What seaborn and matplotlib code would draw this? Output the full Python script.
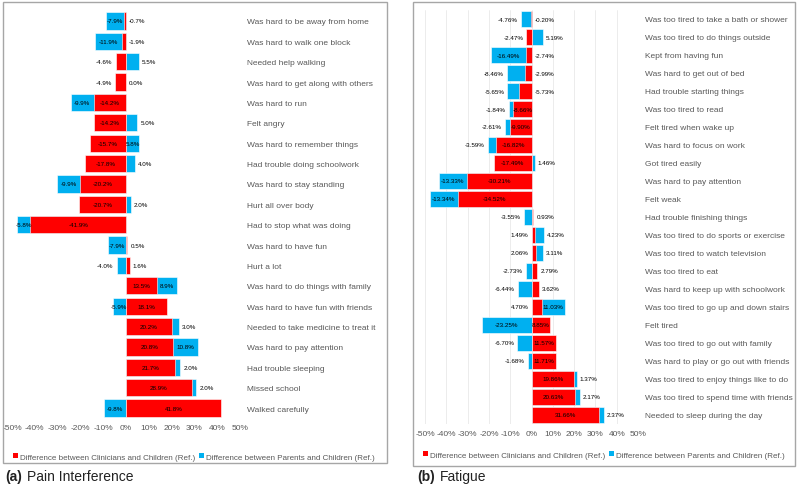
import numpy as np
import matplotlib
matplotlib.use('Agg')
import matplotlib.pyplot as plt
import seaborn as sns
from matplotlib.patches import Patch, Rectangle

# DATA
pain_items = ['Was hard to be away from home', 'Was hard to walk one block', 'Needed help walking',
              'Was hard to get along with others', 'Was hard to run', 'Felt angry',
              'Was hard to remember things', 'Had trouble doing schoolwork', 'Was hard to stay standing',
              'Hurt all over body', 'Had to stop what was doing', 'Was hard to have fun', 'Hurt a lot',
              'Was hard to do things with family', 'Was hard to have fun with friends',
              'Needed to take medicine to treat it', 'Was hard to pay attention', 'Had trouble sleeping',
              'Missed school', 'Walked carefully']
pain_clin = [-0.7, -1.9, -4.6, -4.9, -14.2, -14.2, -15.7, -17.8, -20.2, -20.7, -41.9,
             0.5, 1.6, 13.5, 18.1, 20.2, 20.8, 21.7, 28.9, 41.8]
pain_par = [-7.9, -11.9, 5.5, 0.0, -9.9, 5.0, 5.8, 4.0, -9.9, 2.0, -5.8,
            -7.9, -4.0, 8.9, -5.9, 3.0, 10.8, 2.0, 2.0, -9.8]

fat_items = ['Was too tired to take a bath or shower', 'Was too tired to do things outside',
             'Kept from having fun', 'Was hard to get out of bed', 'Had trouble starting things',
             'Was too tired to read', 'Felt tired when wake up', 'Was hard to focus on work',
             'Got tired easily', 'Was hard to pay attention', 'Felt weak', 'Had trouble finishing things',
             'Was too tired to do sports or exercise', 'Was too tired to watch television',
             'Was too tired to eat', 'Was hard to keep up with schoolwork',
             'Was too tired to go up and down stairs', 'Felt tired', 'Was too tired to go out with family',
             'Was hard to play or go out with friends', 'Was too tired to enjoy things like to do',
             'Was too tired to spend time with friends', 'Needed to sleep during the day']
fat_clin = [-0.20, -2.47, -2.74, -2.99, -5.73, -8.66, -9.90, -16.82, -17.49, -30.21, -34.52,
            0.93, 1.49, 2.06, 2.79, 3.62, 4.70, 8.85, 11.57, 11.71, 19.86, 20.63, 31.66]
fat_par = [-4.76, 5.19, -16.49, -8.46, -5.65, -1.84, -2.61, -3.59, 1.46, -13.33, -13.34,
           -3.55, 4.23, 3.11, -2.73, -6.44, 11.03, -23.25, -6.70, -1.68, 1.37, 2.17, 2.37]

xticks = list(range(-50, 51, 10))
legend_labels = ['Difference between Clinicians and Children (Ref.)',
                 'Difference between Parents and Children (Ref.)']

RED = '#ff0000'
BLUE = '#00b0f0'
GREY = '#595959'

sns.set_theme(style='white')
plt.rcParams['font.family'] = ['Liberation Sans', 'DejaVu Sans']

fig = plt.figure(figsize=(8, 4.89), dpi=100)


def px_axes(l, t, r, b):
    return fig.add_axes([l / 800, 1 - b / 489, (r - l) / 800, (b - t) / 489])


def draw_panel(ax, items, clin, par, fmt, thresh, grid):
    clin = np.array(clin)
    par = np.array(par)
    same = clin * par > 0
    par_ext = np.where(same, clin + par, par)
    # blue drawn as full extent first, red on top -> looks stacked
    sns.barplot(x=par_ext, y=items, orient='h', color=BLUE, saturation=1, width=0.85,
                edgecolor='white', linewidth=0.4, errorbar=None, ax=ax)
    sns.barplot(x=clin, y=items, orient='h', color=RED, saturation=1, width=0.85,
                edgecolor='white', linewidth=0.4, errorbar=None, ax=ax)
    off = 1.4
    for i in range(len(items)):
        c, p = clin[i], par[i]
        # red label
        if abs(c) >= thresh:
            ax.text(c / 2, i, fmt.format(c), ha='center', va='center', fontsize=4.5, color='black')
        elif same[i]:
            if c < 0:
                ax.text(off, i, fmt.format(c), ha='left', va='center', fontsize=4.5, color='black')
            else:
                ax.text(-off, i, fmt.format(c), ha='right', va='center', fontsize=4.5, color='black')
        else:
            if c < 0:
                ax.text(c - off, i, fmt.format(c), ha='right', va='center', fontsize=4.5, color='black')
            else:
                ax.text(c + off, i, fmt.format(c), ha='left', va='center', fontsize=4.5, color='black')
        # blue label
        if abs(p) >= thresh:
            mid = c + p / 2 if same[i] else p / 2
            ax.text(mid, i, fmt.format(p), ha='center', va='center', fontsize=4.5, color='black')
        elif p < 0:
            ax.text(par_ext[i] - off, i, fmt.format(p), ha='right', va='center', fontsize=4.5, color='black')
        else:
            ax.text(par_ext[i] + off, i, fmt.format(p), ha='left', va='center', fontsize=4.5, color='black')

    ax.set_xlim(-50, 50)
    ax.set_ylim(len(items) - 0.5, -0.5)
    ax.set_xticks(xticks)
    ax.set_xticklabels([f'{t}%' for t in xticks])
    ax.set_xlabel('')
    ax.set_ylabel('')
    ax.yaxis.tick_right()
    ax.tick_params(axis='y', length=0, pad=5, labelsize=6, labelcolor=GREY)
    ax.tick_params(axis='x', length=0, pad=4, labelsize=6, labelcolor=GREY)
    for lab in ax.get_yticklabels():
        lab.set_horizontalalignment('left')
    for s in ax.spines.values():
        s.set_visible(False)
    if grid:
        ax.set_axisbelow(True)
        ax.xaxis.grid(True, color='#e4e4e4', linewidth=0.5)
    else:
        ax.grid(False)


ax1 = px_axes(12, 11.8, 240, 419.2)
draw_panel(ax1, pain_items, pain_clin, pain_par, '{:.1f}%', 5.6, False)

ax2 = px_axes(425, 11, 638, 425)
draw_panel(ax2, fat_items, fat_clin, fat_par, '{:.2f}%', 8.5, True)

# panel frames
for (l, t, r, b) in [(3, 3, 387, 464), (413, 3, 795, 467)]:
    fig.add_artist(Rectangle((l / 800, 1 - b / 489), (r - l) / 800, (b - t) / 489,
                             transform=fig.transFigure, fill=False, edgecolor='#a6a6a6', linewidth=1))

handles = [Patch(facecolor=RED, edgecolor='none'), Patch(facecolor=BLUE, edgecolor='none')]
for cx, cy in [(194, 458), (604, 456)]:
    fig.legend(handles, legend_labels, loc='center', bbox_to_anchor=(cx / 800, 1 - cy / 489),
               ncol=2, frameon=False, fontsize=5.8, labelcolor=GREY, handlelength=0.6,
               handleheight=0.6, handletextpad=0.3, columnspacing=0.4)

# captions
fig.text(5 / 800, 1 - 477 / 489, '(a)', fontsize=10, fontweight='bold', va='center', color='#222222')
fig.text(27 / 800, 1 - 477 / 489, 'Pain Interference', fontsize=10, va='center', color='#222222')
fig.text(417 / 800, 1 - 477 / 489, '(b)', fontsize=10, fontweight='bold', va='center', color='#222222')
fig.text(440 / 800, 1 - 477 / 489, 'Fatigue', fontsize=10, va='center', color='#222222')

fig.savefig('out.png', dpi=100)
